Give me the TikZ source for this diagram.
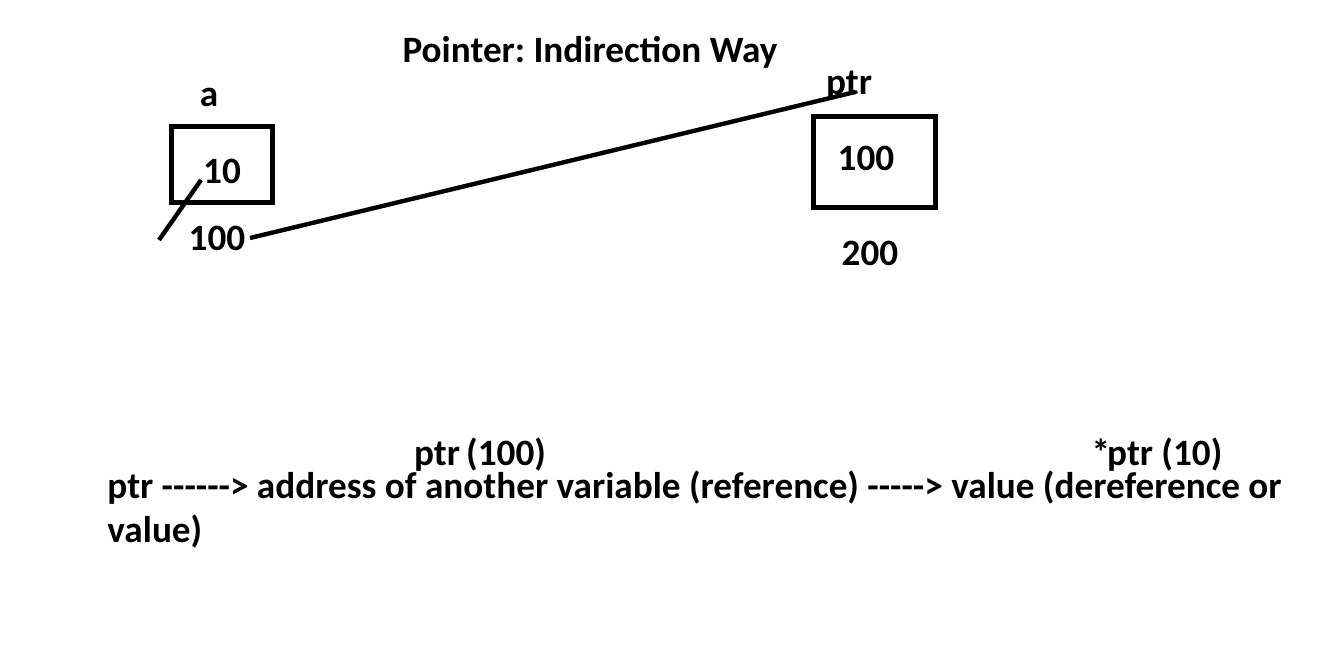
\documentclass[tikz,border=0pt]{standalone}
\usepackage{fontspec}
\setmainfont{Carlito}[Ligatures=TeXOff]
\begin{document}
\frenchspacing
\begin{tikzpicture}[x=0.5pt,y=-0.5pt,
  lbl/.style={font=\fontsize{18.6}{22}\selectfont\bfseries, inner sep=0pt},
  cell/.style={draw, line width=2.5pt},
  wire/.style={line width=2.2pt}]
\useasboundingbox (0,0) rectangle (1340,670);
\node[lbl, anchor=base] (title) at (590,62) {Pointer: Indirection Way};
% variable a
\draw[cell] (171,126) rectangle (272,202);
\node[lbl] (aname) at (209,97) {a};
\node[lbl] (aval) at (222,171) {10};
\node[lbl] (aaddr) at (217,238) {100};
% variable ptr
\draw[cell] (813,116) rectangle (935,207);
\node[lbl] (pname) at (849,86) {ptr};
\node[lbl] (pval) at (866,158) {100};
\node[lbl] (paddr) at (870,253) {200};
% connectors
\coordinate (s1) at (159,240);
\coordinate (s2) at (201,180);
\draw[wire] (s1) -- (s2);
\coordinate (l1) at (250,238);
\coordinate (l2) at (855,92);
\draw[wire] (l1) -- (l2);
% bottom text
\node[lbl, anchor=base west] (line1) at (107,498) {ptr ------> address of another variable (reference) -----> value (dereference or};
\node[lbl, anchor=base west] (line2) at (107,542) {value)};
\node[lbl, anchor=base] (note1) at (480,465) {ptr\,(100)};
\node[lbl, anchor=base] (note2) at (1157,465) {*\kern-1.5pt ptr (10)};
\end{tikzpicture}
\end{document}
